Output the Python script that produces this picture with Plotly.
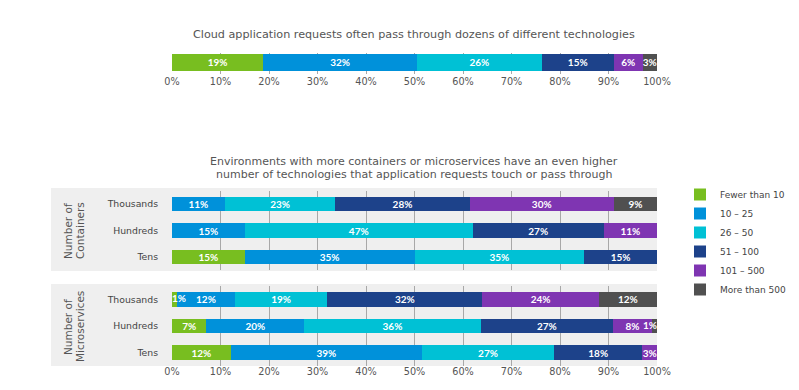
import plotly.graph_objects as go

series = ["Fewer than 10", "10 – 25", "26 – 50", "51 – 100", "101 – 500", "More than 500"]
colors = ["#78be20", "#0091da", "#00c1d5", "#1d428a", "#7f35b2", "#505050"]

# Top chart: all cloud application requests
top_cat = ["All"]
top_vals = [[19], [32], [26], [15], [6], [3]]

# Containers
cont_cats = ["Thousands", "Hundreds", "Tens"]
cont_vals = [
    [0, 0, 15],
    [11, 15, 35],
    [23, 47, 35],
    [28, 27, 15],
    [30, 11, 0],
    [9, 0, 0],
]

# Microservices
micro_cats = ["Thousands", "Hundreds", "Tens"]
micro_vals = [
    [1, 7, 12],
    [12, 20, 39],
    [19, 36, 27],
    [32, 27, 18],
    [24, 8, 3],
    [12, 1, 0],
]

title_top = "Cloud application requests often pass through dozens of different technologies"
title_mid_1 = "Environments with more containers or microservices have an even higher"
title_mid_2 = "number of technologies that application requests touch or pass through"

# the page body has an 8px margin: size the figure so it fits the 799x390 window
OFF = 8
FW, FH = 799 - 2 * OFF, 390 - 2 * OFF
FONT = "DejaVu Sans"
BFONT = "Lato"
TXT = "#555555"
SMALL = 1  # segments this small get their label drawn on top


def px(x):
    return (x - OFF) / FW


def py(y):
    return 1 - (y - OFF) / FH


fig = go.Figure()

groups = [
    (top_cat, top_vals, "x", "y", 0.8),
    (cont_cats, cont_vals, "x2", "y2", 0.55),
    (micro_cats, micro_vals, "x3", "y3", 0.55),
]
for gi, (cats, vals, xa, ya, width) in enumerate(groups):
    for si, name in enumerate(series):
        v = [val if val else None for val in vals[si]]
        fig.add_trace(go.Bar(
            y=cats, x=v, orientation="h", name=name,
            marker=dict(color=colors[si], line=dict(width=0)),
            text=[f"{val}%" if val and val > SMALL else "" for val in vals[si]],
            textposition="inside", insidetextanchor="middle", textangle=0,
            textfont=dict(color="white", size=10, family=BFONT, weight="bold"),
            xaxis=xa, yaxis=ya, width=width,
            legendgroup=name, showlegend=(gi == 0),
            hoverinfo="skip",
        ))
    # labels of very small segments, drawn above all bars
    for ci, cat in enumerate(cats):
        row = [vals[si][ci] for si in range(len(series))]
        total = sum(row)
        cum = 0
        nz = [si for si in range(len(series)) if row[si]]
        for si in range(len(series)):
            val = row[si]
            if val and val <= SMALL:
                start = cum / total * 100
                end = (cum + val) / total * 100
                if si == nz[0]:
                    xx, pos = start, "middle right"
                else:
                    xx, pos = end, "middle left"
                fig.add_trace(go.Scatter(
                    x=[xx], y=[cat], mode="text", text=[f"{val}%"],
                    textposition=pos,
                    textfont=dict(color="white", size=10, family=BFONT, weight="bold"),
                    xaxis=xa, yaxis=ya, showlegend=False, hoverinfo="skip",
                    cliponaxis=False,
                ))
            cum += val

xcommon = dict(range=[0, 100], dtick=10, ticksuffix="%", showgrid=True,
               gridcolor="#a8a8a8", gridwidth=1, zeroline=False, showline=False,
               ticks="", tickfont=dict(family=FONT, size=9.7, color=TXT),
               domain=[px(172), px(657)], fixedrange=True)
ycat = dict(autorange="reversed", showgrid=False, zeroline=False, ticks="",
            ticklabelstandoff=13, tickfont=dict(family=FONT, size=9.3, color="#444444"))


def label(text, x, y, size, angle=0):
    return dict(text=text, x=px(x), y=py(y), xref="paper", yref="paper",
                xanchor="center", yanchor="middle", showarrow=False,
                textangle=angle, font=dict(family=FONT, size=size, color=TXT))


fig.update_layout(
    width=FW, height=FH,
    margin=dict(l=0, r=0, t=0, b=0, autoexpand=False),
    paper_bgcolor="white", plot_bgcolor="rgba(0,0,0,0)",
    barmode="stack", barnorm="percent",
    uniformtext=dict(minsize=10, mode="show"),
    xaxis=dict(**xcommon, anchor="y", ticklabelstandoff=0),
    yaxis=dict(domain=[py(74), py(53)], showticklabels=False, showgrid=False,
               zeroline=False, anchor="x", range=[-0.55, 0.45]),
    xaxis2=dict(**{**xcommon, "showticklabels": False}, anchor="y2"),
    yaxis2=dict(domain=[py(270), py(191)], anchor="x2", **ycat),
    xaxis3=dict(**xcommon, anchor="y3", ticklabelstandoff=-2),
    yaxis3=dict(domain=[py(366), py(286)], anchor="x3", **ycat),
    legend=dict(x=px(680), y=py(180), xanchor="left", yanchor="top",
                font=dict(family=FONT, size=9, color="#444444"),
                traceorder="normal", itemwidth=30, bgcolor="rgba(0,0,0,0)",
                tracegroupgap=0),
    showlegend=True,
    shapes=[
        dict(type="rect", xref="paper", yref="paper", layer="below",
             x0=px(51), x1=px(657), y0=py(271), y1=py(188),
             fillcolor="#efefef", line=dict(width=0)),
        dict(type="rect", xref="paper", yref="paper", layer="below",
             x0=px(51), x1=px(657), y0=py(366), y1=py(284),
             fillcolor="#efefef", line=dict(width=0)),
    ],
    annotations=[
        label(title_top, 414, 35, 11.2),
        label(title_mid_1, 414, 161, 11),
        label(title_mid_2, 414, 174, 11),
        label("Number of", 68, 231, 10.5, -90),
        label("Containers", 80, 231, 10.5, -90),
        label("Number of", 68, 327, 10.5, -90),
        label("Microservices", 80, 327, 10.5, -90),
    ],
)

fig.write_html("out.html")
